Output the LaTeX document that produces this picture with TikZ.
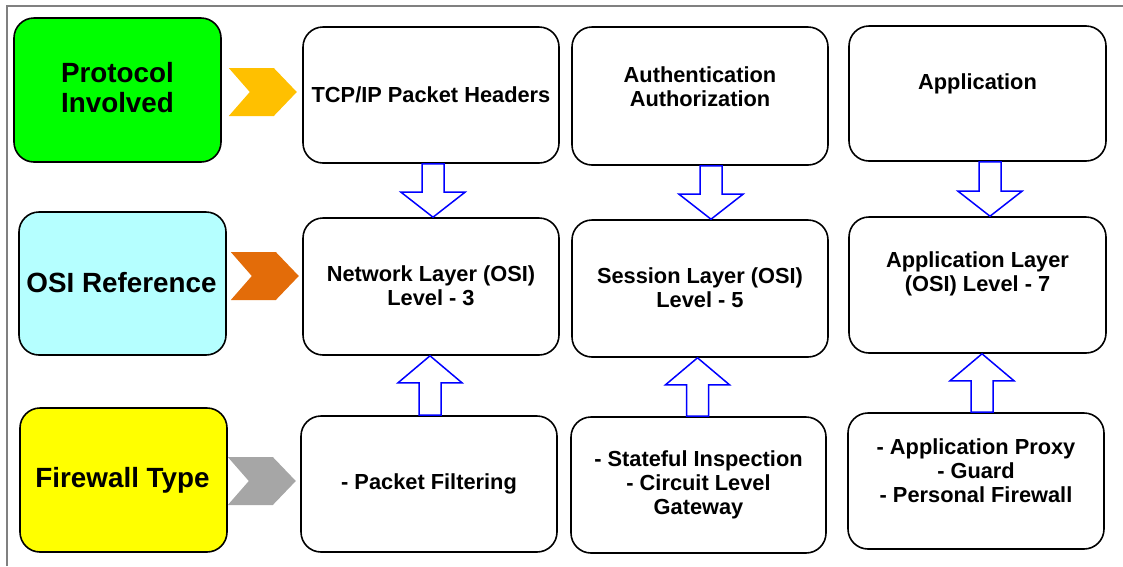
\documentclass[tikz,border=0pt]{standalone}
\usepackage{fontspec}
\setmainfont{Liberation Sans}
\usetikzlibrary{calc}
\definecolor{boxgreen}{HTML}{00FF00}
\definecolor{boxcyan}{HTML}{B5FFFF}
\definecolor{boxyellow}{HTML}{FFFF00}
\definecolor{chevgold}{HTML}{FFC000}
\definecolor{chevorange}{HTML}{E36C09}
\definecolor{chevgray}{HTML}{A6A6A6}
\definecolor{framegray}{HTML}{808080}
\newcommand\blockdown[2]{%
  \draw[blockarrow] let \p1=(#1), \p2=(#2) in
    (\x1-11pt,\y1) -- (\x1+11pt,\y1) -- (\x1+11pt,\y2+25pt) -- (\x1+32pt,\y2+25pt)
    -- (\x1,\y2) -- (\x1-32pt,\y2+25pt) -- (\x1-11pt,\y2+25pt) -- cycle;}
\newcommand\blockup[2]{%
  \draw[blockarrow] let \p1=(#1), \p2=(#2) in
    (\x1-11pt,\y1) -- (\x1+11pt,\y1) -- (\x1+11pt,\y2-27pt) -- (\x1+32pt,\y2-27pt)
    -- (\x1,\y2) -- (\x1-32pt,\y2-27pt) -- (\x1-11pt,\y2-27pt) -- cycle;}
\newcommand\chev[2]{%
  \fill[#1] let \p1=(#2) in
    (\x1,\y1+24pt) -- (\x1+45pt,\y1+24pt) -- (\x1+68pt,\y1) -- (\x1+45pt,\y1-24pt)
    -- (\x1,\y1-24pt) -- (\x1+21pt,\y1) -- cycle;}
\begin{document}
\begin{tikzpicture}[x=1pt,y=-1pt,
  lblbox/.style={draw=black, line width=1.6pt, rounded corners=20pt, minimum width=207pt, minimum height=144pt, inner sep=0pt},
  contbox/.style={draw=black, line width=1.6pt, rounded corners=20pt, fill=white, minimum width=256pt, minimum height=136pt, inner sep=0pt},
  lbltext/.style={font=\fontsize{27.8}{30}\selectfont\bfseries, align=center, inner sep=0pt},
  conttext/.style={font=\fontsize{21.8}{24}\selectfont\bfseries, align=center, inner sep=0pt},
  blockarrow/.style={draw=blue, line width=1.5pt, fill=white, line join=miter}
]
\useasboundingbox (0,0) rectangle (1123,566);
\draw[framegray, line width=1.2pt] (7,566) -- (7,6) -- (1123,6);

% label boxes
\node[lblbox, fill=boxgreen] (green) at (117.5,90) {};
\node[lblbox, fill=boxcyan, minimum height=143pt] (cyan) at (122.5,283.5) {};
\node[lblbox, fill=boxyellow] (yellow) at (123.5,480) {};

% content boxes
\node[contbox] (tcp) at (431,95) {};
\node[contbox, minimum height=137pt] (net) at (431,286.5) {};
\node[contbox] (pf) at (429,484) {};
\node[contbox, minimum height=138pt] (auth) at (700,96) {};
\node[contbox, minimum height=137pt] (sess) at (700,288.5) {};
\node[contbox, minimum width=255pt] (sf) at (698.5,485) {};
\node[contbox, minimum width=257pt, minimum height=135pt] (app) at (977.5,93.5) {};
\node[contbox, minimum width=257pt] (appl) at (977.5,285) {};
\node[contbox] (apx) at (976,481) {};

% label texts
\node[lbltext] (tgreen) at ($(green.center)+(0,-2)$) {Protocol\\Involved};
\node[lbltext] (tcyan) at ($(cyan.center)+(-1,-1)$) {OSI Reference};
\node[lbltext] (tyellow) at ($(yellow.center)+(-1,0)$) {Firewall Type};

% content texts
\node[conttext] (ttcp) at (tcp.center) {TCP/IP Packet Headers};
\node[conttext] (tnet) at ($(net.center)+(0,-1)$) {Network Layer (OSI)\\Level - 3};
\node[conttext] (tpf) at (pf.center) {- Packet Filtering};
\node[conttext] (tauth) at ($(auth.center)+(0,-9)$) {Authentication\\Authorization};
\node[conttext] (tsess) at ($(sess.center)+(0,-1)$) {Session Layer (OSI)\\Level - 5};
\node[conttext] (tsf) at (sf.center) {- Stateful Inspection\\- Circuit Level\\Gateway};
\node[conttext] (tapp) at ($(app.center)+(0,-10)$) {Application};
\node[conttext] (tappl) at ($(appl.center)+(0,-11)$) {Application Layer\\(OSI) Level - 7};
\node[conttext] (tapx) at ($(apx.center)+(0,-10)$) {- Application Proxy\\- Guard\\- Personal Firewall};

% chevrons
\chev{chevgold}{$(green.east)+(7,2)$}
\chev{chevorange}{$(cyan.east)+(4,-7.5)$}
\chev{chevgray}{$(yellow.east)+(0,1)$}

% block arrows
\blockdown{$(tcp.south)+(2,0)$}{net.north}
\blockdown{$(auth.south)+(11,0)$}{sess.north}
\blockdown{$(app.south)+(12.5,0)$}{appl.north}
\blockup{$(pf.north)+(1,0)$}{net.south}
\blockup{$(sf.north)+(-1,0)$}{sess.south}
\blockup{$(apx.north)+(6,0)$}{appl.south}
\end{tikzpicture}
\end{document}
